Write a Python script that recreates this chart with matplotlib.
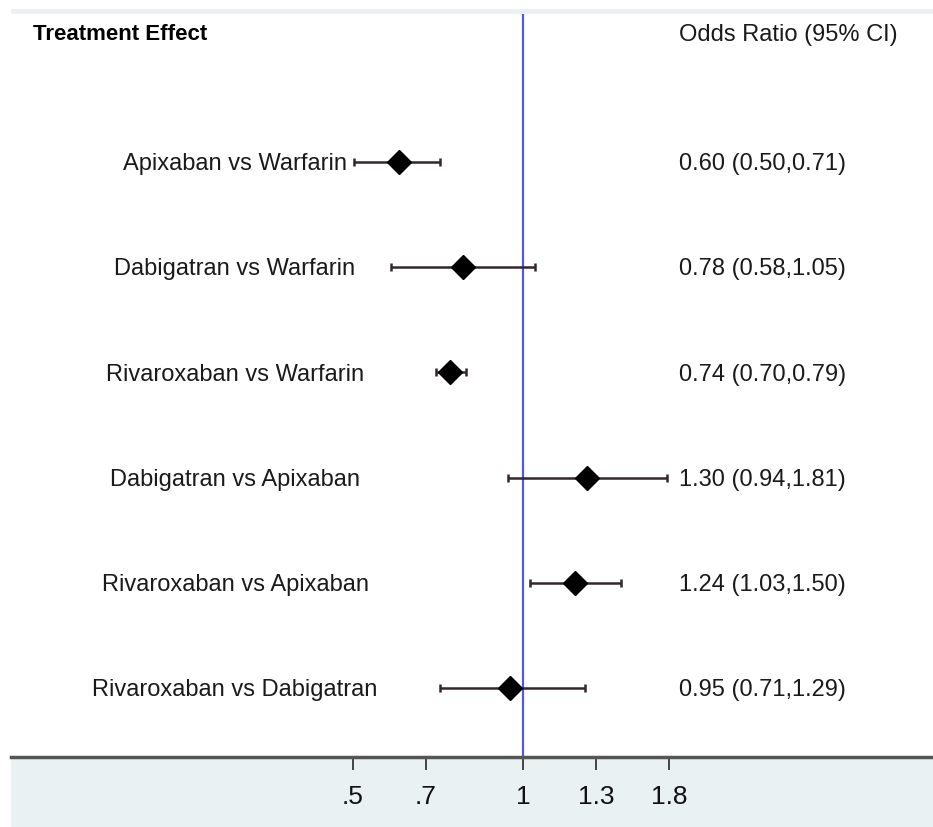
import numpy as np
import matplotlib.pyplot as plt
from matplotlib.patches import Rectangle
from matplotlib.ticker import NullLocator
import matplotlib.transforms as mtransforms

plt.rcParams['font.family'] = ['Liberation Sans', 'DejaVu Sans']

# data
labels = ['Apixaban vs Warfarin', 'Dabigatran vs Warfarin', 'Rivaroxaban vs Warfarin',
          'Dabigatran vs Apixaban', 'Rivaroxaban vs Apixaban', 'Rivaroxaban vs Dabigatran']
odds = [0.60, 0.78, 0.74, 1.30, 1.24, 0.95]
ci_lo = [0.50, 0.58, 0.70, 0.94, 1.03, 0.71]
ci_hi = [0.71, 1.05, 0.79, 1.81, 1.50, 1.29]
tick_logs = [-0.7, -0.4, 0, 0.3, 0.6]
tick_labels = ['.5', '.7', '1', '1.3', '1.8']

W, H = 933, 827
fig = plt.figure(figsize=(W / 100, H / 100), dpi=100)
fig.patch.set_facecolor('white')

# light grey frame behind the plot region
fig.add_artist(Rectangle((11 / W, 0), 1 - 11 / W, (H - 9) / H, transform=fig.transFigure,
                         facecolor='#e9f1f3', edgecolor='none', zorder=0))

ax = fig.add_axes([11 / W, (H - 757) / H, 1 - 11 / W, (757 - 14) / H])
ax.set_facecolor('white')

ypos = np.arange(len(labels))
odds = np.array(odds)
ci_lo = np.array(ci_lo)
ci_hi = np.array(ci_hi)

ax.axvline(1, color='#5656e6', lw=1.6, zorder=1)
ax.errorbar(odds, ypos, xerr=[odds - ci_lo, ci_hi - odds], fmt='none',
            ecolor='#33272a', elinewidth=1.8, capsize=3, capthick=1.8, zorder=2)
ax.plot(odds, ypos, 'D', color='black', ms=12.5, zorder=3)

ax.set_xscale('log')
ax.set_xlim(np.exp(-2.106), np.exp(1.687))
ax.set_ylim(5.656, -1.407)
ax.xaxis.set_minor_locator(NullLocator())
ax.set_xticks(np.exp(tick_logs))
ax.set_xticklabels(tick_labels)
ax.tick_params(axis='x', length=9, width=1.4, color='#444444', labelsize=19, pad=11,
               labelcolor='#111111')
ax.set_yticks([])
for s in ['top', 'left', 'right']:
    ax.spines[s].set_visible(False)
ax.spines['bottom'].set_color('#555555')
ax.spines['bottom'].set_linewidth(2.5)

trans = mtransforms.blended_transform_factory(ax.transAxes, ax.transData)
for i, name in enumerate(labels):
    ax.text(0.243, i + 0.02, name, transform=trans, ha='center', va='center', fontsize=17,
            color='#1a1a1a')
    ax.text(0.7245, i + 0.02, f'{odds[i]:.2f} ({ci_lo[i]:.2f},{ci_hi[i]:.2f})', transform=trans,
            ha='left', va='center', fontsize=17, color='#1a1a1a')

ax.text(0.0239, -1.21, 'Treatment Effect', transform=trans, ha='left', va='center',
        fontsize=16, fontweight='bold', color='black')
ax.text(0.7245, -1.21, 'Odds Ratio (95% CI)', transform=trans, ha='left', va='center',
        fontsize=17, color='#1a1a1a')

fig.savefig('out.png', dpi=100)
